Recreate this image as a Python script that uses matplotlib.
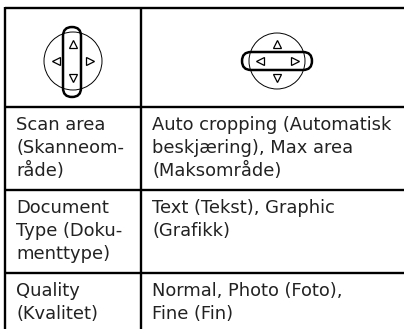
import matplotlib
matplotlib.use("Agg")
import matplotlib.pyplot as plt
from matplotlib.patches import Circle, FancyBboxPatch

W, H = 404, 329

# table text, one list of lines per cell
left_cells = [
    ["Scan area", "(Skanneom-", "råde)"],
    ["Document", "Type (Doku-", "menttype)"],
    ["Quality", "(Kvalitet)"],
]
right_cells = [
    ["Auto cropping (Automatisk", "beskjæring), Max area", "(Maksområde)"],
    ["Text (Tekst), Graphic", "(Grafikk)"],
    ["Normal, Photo (Foto),", "Fine (Fin)"],
]
row_baselines = [130, 213, 296]
line_step = 23

fig = plt.figure(figsize=(W / 100, H / 100), dpi=100)
ax = fig.add_axes([0, 0, 1, 1])
ax.set_xlim(0, W)
ax.set_ylim(H, 0)
ax.axis("off")

# grid lines, open on the right and at the bottom
for y in [7.5, 107, 189.5, 273]:
    ax.plot([4.5, W], [y, y], color="black", lw=1.7, solid_capstyle="butt")
for x in [5, 140.5]:
    ax.plot([x, x], [7, H], color="black", lw=1.7, solid_capstyle="butt")


def pad(cx, cy, r, tri, pill):
    ax.add_patch(Circle((cx, cy), r, fill=False, ec="black", lw=0.7))
    for marker, tx, ty in tri:
        ax.plot(tx, ty, marker=marker, ms=5.5, mfc="white", mec="black", mew=0.9)
    x0, y0, x1, y1 = pill
    rad = min(x1 - x0, y1 - y0) / 2
    ax.add_patch(FancyBboxPatch((x0 + rad, y0 + rad), x1 - x0 - 2 * rad, y1 - y0 - 2 * rad,
                                boxstyle=f"round,pad={rad - 0.01},rounding_size={rad}",
                                fill=False, ec="black", lw=1.8))


pad(73, 61, 29, [("^", 73, 44), ("v", 73, 78), ("<", 55.5, 61), (">", 89.5, 61)], (63, 27, 81, 97))
pad(277, 61, 28, [("^", 277, 44), ("v", 277, 78), ("<", 259.5, 61), (">", 294.5, 61)], (242, 52, 312, 70))

for cells, x in [(left_cells, 16), (right_cells, 152)]:
    for lines, base in zip(cells, row_baselines):
        for i, line in enumerate(lines):
            ax.text(x, base + i * line_step, line, family="DejaVu Sans", fontsize=12.9,
                    color="#222222", va="baseline", ha="left")

fig.savefig("out.png", dpi=100)
